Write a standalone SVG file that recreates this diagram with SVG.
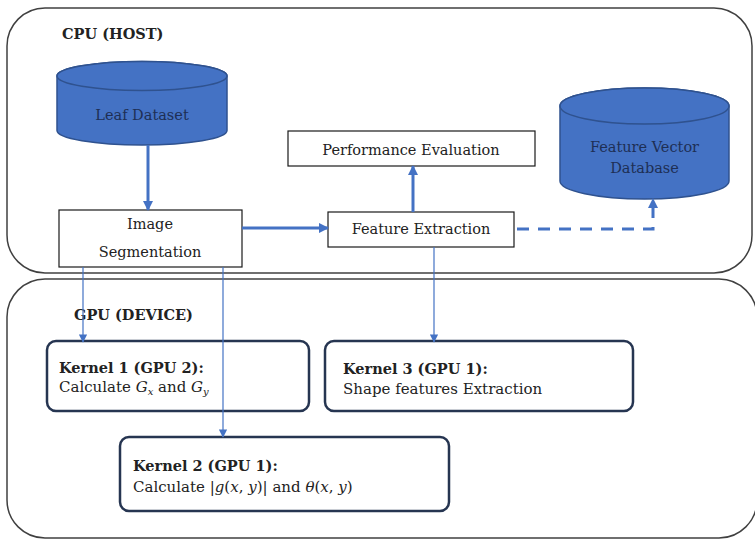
<svg xmlns="http://www.w3.org/2000/svg" width="755" height="541" viewBox="0 0 755 541">
<style>
.container{fill:#fff;stroke:#404040;stroke-width:1.5}
.box{fill:#fff;stroke:#1a1a1a;stroke-width:1.2}
.kernel{fill:#fff;stroke:#263551;stroke-width:2.5}
.cyl{fill:#4472C4;stroke:#2F528F;stroke-width:1.5}
.t{font-family:"DejaVu Serif","Liberation Serif",serif;font-size:14.5px;fill:#222}
.k{font-family:"DejaVu Serif","Liberation Serif",serif;font-size:15px;fill:#222}
.b{font-family:"DejaVu Serif","Liberation Serif",serif;font-size:14.5px;font-weight:bold;fill:#222}
.ct{font-family:"DejaVu Serif","Liberation Serif",serif;font-size:14.5px;fill:#1e2f55}
.thick{stroke:#4472C4;stroke-width:3;fill:none}
.thin{stroke:#4472C4;stroke-width:1.2;fill:none}
.dash{stroke:#4472C4;stroke-width:3;fill:none;stroke-dasharray:12 9}
</style>
<defs>
<marker id="ah" viewBox="0 0 10 10" refX="9" refY="5" markerWidth="3.5" markerHeight="3.5" orient="auto" markerUnits="strokeWidth">
<path d="M0,0 L10,5 L0,10 Z" fill="#4472C4"/>
</marker>
<marker id="ahs" viewBox="0 0 10 10" refX="9" refY="5" markerWidth="7" markerHeight="7" orient="auto" markerUnits="strokeWidth">
<path d="M0,0 L10,5 L0,10 Z" fill="#4472C4"/>
</marker>
</defs>
<g id="cpu-host">
<rect class="container" x="7" y="8" width="745" height="265" rx="38"/>
<text class="b" x="62" y="39">CPU (HOST)</text>
</g>
<g id="gpu-device">
<rect class="container" x="7" y="279" width="750" height="259" rx="38"/>
<text class="b" x="74" y="320">GPU (DEVICE)</text>
</g>
<g id="leaf-dataset">
<path class="cyl" d="M57,76 A85,14.5 0 0 1 227,76 L227,130.5 A85,14.5 0 0 1 57,130.5 Z"/>
<ellipse class="cyl" cx="142" cy="76" rx="85" ry="14.5"/>
<text class="ct" x="142" y="120" text-anchor="middle">Leaf Dataset</text>
</g>
<g id="feature-vector-db">
<path class="cyl" d="M560,106 A84.5,18 0 0 1 729,106 L729,181 A84.5,18 0 0 1 560,181 Z"/>
<ellipse class="cyl" cx="644.5" cy="106" rx="84.5" ry="18"/>
<text class="ct" x="644.5" y="152" text-anchor="middle">Feature Vector</text>
<text class="ct" x="644.5" y="173" text-anchor="middle">Database</text>
</g>
<g id="image-segmentation">
<rect class="box" x="59" y="210" width="183" height="57"/>
<text class="t" x="150" y="229" text-anchor="middle">Image</text>
<text class="t" x="150" y="257" text-anchor="middle">Segmentation</text>
</g>
<g id="performance-evaluation">
<rect class="box" x="288" y="131" width="247" height="35"/>
<text class="t" x="411" y="155" text-anchor="middle">Performance Evaluation</text>
</g>
<g id="feature-extraction">
<rect class="box" x="328" y="212" width="186" height="35"/>
<text class="t" x="421" y="234" text-anchor="middle">Feature Extraction</text>
</g>
<g id="kernel1">
<rect class="kernel" x="47" y="341" width="262" height="70" rx="9"/>
<text class="b" x="59" y="373">Kernel 1 (GPU 2):</text>
<text class="k" x="59" y="392">Calculate <tspan font-style="italic">G</tspan><tspan font-style="italic" font-size="10" dy="3">x</tspan><tspan dy="-3"> and </tspan><tspan font-style="italic">G</tspan><tspan font-style="italic" font-size="10" dy="3">y</tspan></text>
</g>
<g id="kernel3">
<rect class="kernel" x="325" y="341" width="308" height="70" rx="9"/>
<text class="b" x="343" y="374">Kernel 3 (GPU 1):</text>
<text class="k" x="343" y="394">Shape features Extraction</text>
</g>
<g id="kernel2">
<rect class="kernel" x="120" y="437" width="329" height="74" rx="9"/>
<text class="b" x="133" y="471">Kernel 2 (GPU 1):</text>
<text class="k" x="133" y="492">Calculate |<tspan font-style="italic">g</tspan>(<tspan font-style="italic">x</tspan>, <tspan font-style="italic">y</tspan>)| and <tspan font-style="italic">θ</tspan>(<tspan font-style="italic">x</tspan>, <tspan font-style="italic">y</tspan>)</text>
</g>
<g id="connectors">
<path class="thick" d="M148,145 V210" marker-end="url(#ah)"/>
<path class="thick" d="M242,228 H328" marker-end="url(#ah)"/>
<path class="thick" d="M413,212 V166" marker-end="url(#ah)"/>
<path class="dash" d="M517,229 H653 V199" marker-end="url(#ah)"/>
<path class="thin" d="M83,267 V342" marker-end="url(#ahs)"/>
<path class="thin" d="M223,267 V437" marker-end="url(#ahs)"/>
<path class="thin" d="M434,247 V342" marker-end="url(#ahs)"/>
</g>
</svg>
